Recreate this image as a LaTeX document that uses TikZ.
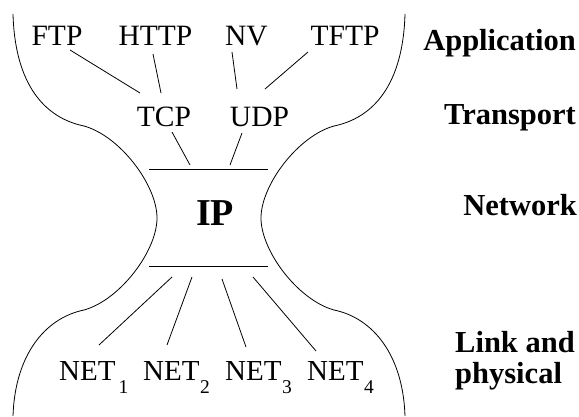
\documentclass[tikz,border=0pt]{standalone}
\usepackage{fontspec}
\setmainfont{Liberation Serif}
\begin{document}
\begin{tikzpicture}[x=1pt,y=-1pt,
  proto/.style={font=\fontsize{29.5}{33}\selectfont, inner sep=0pt, anchor=base},
  netnode/.style={font=\fontsize{29}{33}\selectfont, inner sep=0pt, anchor=base west},
  layer/.style={font=\fontsize{30.5}{34}\selectfont\bfseries, inner sep=0pt},
  ipstyle/.style={font=\fontsize{38}{42}\selectfont\bfseries, inner sep=0pt, anchor=base},
  link/.style={line width=0.8pt},
  outline/.style={line width=0.8pt}]
\useasboundingbox (0,0) rectangle (579,416);

% protocol nodes
\node[proto] (ftp) at (57,45) {FTP};
\node[proto] (http) at (155.5,45) {HTTP};
\node[proto] (nv) at (246.5,45) {NV};
\node[proto] (tftp) at (345,45) {TFTP};
\node[proto] (tcp) at (164,126) {TCP};
\node[proto] (udp) at (259.5,126) {UDP};
\node[ipstyle] (ip) at (215,225) {IP};
\newcommand{\subnum}[1]{\raisebox{-13pt}{\fontsize{19.5}{20}\selectfont #1}}
\node[netnode] (net1) at (59,380) {NET\kern3pt\subnum{1}};
\node[netnode] (net2) at (143,380) {NET\kern0.5pt\subnum{2}};
\node[netnode] (net3) at (225,380) {NET\kern0.5pt\subnum{3}};
\node[netnode] (net4) at (307,380) {NET\kern0.5pt\subnum{4}};

% layer labels
\node[layer, anchor=base east] (lapp) at (576,50) {Application};
\node[layer, anchor=base east] (ltrans) at (576,124) {Transport};
\node[layer, anchor=base east] (lnet) at (577,215) {Network};
\node[layer, anchor=base west] (llink) at (455,352) {Link and};
\node[layer, anchor=base west] (lphys) at (455,383) {physical};

% connectors
\draw[link] ([shift={(13,5)}]ftp.base) -- ([shift={(-24,-33)}]tcp.base);
\draw[link] ([shift={(-2.5,9)}]http.base) -- ([shift={(-3,-33)}]tcp.base);
\draw[link] ([shift={(-14.5,7)}]nv.base) -- ([shift={(-22.5,-37)}]udp.base);
\draw[link] ([shift={(-37,7)}]tftp.base) -- ([shift={(5.5,-37)}]udp.base);
\draw[link] ([shift={(8,6)}]tcp.base) -- ([shift={(-25,-60)}]ip.base);
\draw[link] ([shift={(-17.5,7)}]udp.base) -- ([shift={(15,-60)}]ip.base);
\draw[link] ([shift={(-43,52)}]ip.base) -- ([shift={(40,-35)}]net1.base west);
\draw[link] ([shift={(-23,52)}]ip.base) -- ([shift={(24,-35)}]net2.base west);
\draw[link] ([shift={(7,54)}]ip.base) -- ([shift={(21,-33)}]net3.base west);
\draw[link] ([shift={(38,52)}]ip.base) -- ([shift={(9,-29)}]net4.base west);

% IP box top and bottom
\draw[outline] (149,169) -- (268,169);
\draw[outline] (149,266) -- (268,266);

% hourglass outline, left side
\draw[outline] (13,14) .. controls (15,85) and (45,118) .. (84,126);
\draw[outline] (84,126) .. controls (120,136) and (157,185) .. (157,218);
\draw[outline] (157,218) .. controls (157,251) and (120,300) .. (84,310);
\draw[outline] (84,310) .. controls (45,318) and (15,355) .. (13,416);
% right side (mirror about x=209)
\draw[outline] (405,14) .. controls (403,85) and (373,118) .. (334,126);
\draw[outline] (334,126) .. controls (298,136) and (261,185) .. (261,218);
\draw[outline] (261,218) .. controls (261,251) and (298,300) .. (334,310);
\draw[outline] (334,310) .. controls (373,318) and (403,355) .. (405,416);
\end{tikzpicture}
\end{document}
